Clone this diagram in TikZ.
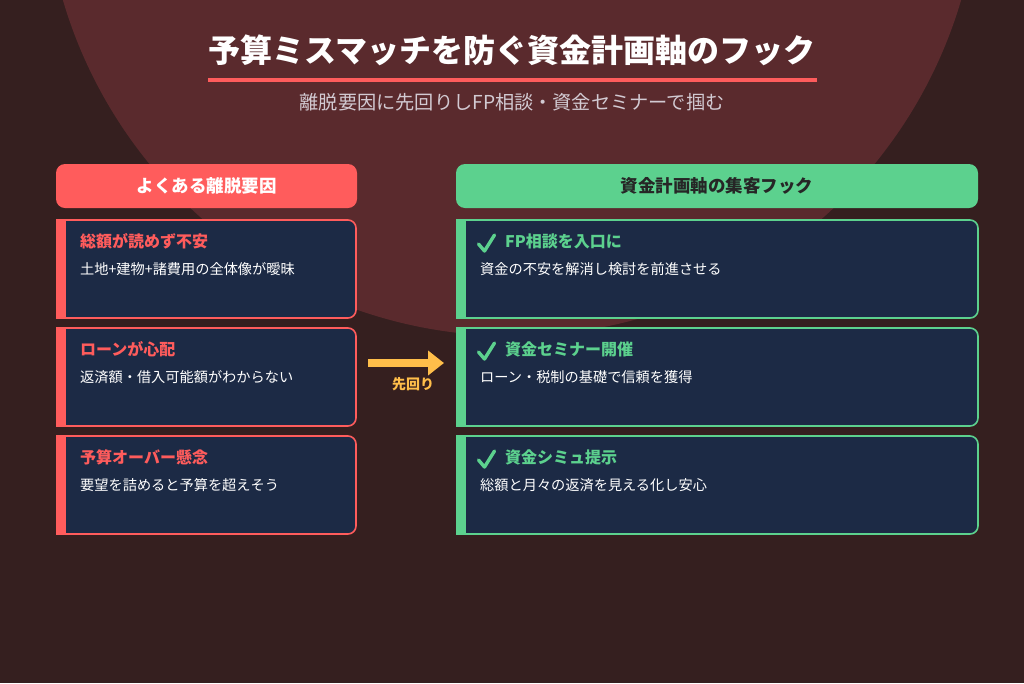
\documentclass[tikz,border=0pt]{standalone}
\usepackage{fontspec}
\newfontfamily\jp{Noto Sans CJK JP}
\usetikzlibrary{arrows.meta}
\definecolor{bgc}{HTML}{351F1F}
\definecolor{circc}{HTML}{5A2A2D}
\definecolor{cardc}{HTML}{1C2A45}
\definecolor{redc}{HTML}{FF5C5C}
\definecolor{greenc}{HTML}{5CD18E}
\definecolor{yelc}{HTML}{FFBE4A}
\definecolor{subc}{HTML}{D2CAD2}
\tikzset{
  hdr/.style={rounded corners=9pt, minimum height=44pt, inner sep=0pt, font=\jp\bfseries\fontsize{17.5}{20}\selectfont},
  card/.style={fill=cardc, line width=1.6pt, rounded corners=8pt},
  ttl/.style={anchor=west, inner sep=0pt, font=\jp\bfseries\fontsize{16}{19}\selectfont},
  body/.style={anchor=west, inner sep=0pt, text=white, font=\jp\fontsize{14.2}{17}\selectfont},
  chk/.style={draw=greenc, line width=3.4pt, line cap=round, line join=round}
}
\begin{document}
\begin{tikzpicture}[x=1pt,y=-1pt]
\useasboundingbox (0,0) rectangle (1024,683);
\fill[bgc] (0,0) rectangle (1024,683);
\begin{scope}
\clip (0,0) rectangle (1024,683);
\fill[circc] (512,-132) circle[radius=468];
\end{scope}
% title
\node[text=white, font=\jp\bfseries\fontsize{32}{37}\selectfont, inner sep=0pt] (title) at (512,50) {予算ミスマッチを防ぐ資金計画軸のフック};
\coordinate (ul1) at (208,80);
\coordinate (ul2) at (817,80);
\draw[redc, line width=4pt] (ul1) -- (ul2);
\node[text=subc, font=\jp\fontsize{19.2}{22}\selectfont, inner sep=0pt] (sub) at (512,102) {離脱要因に先回りしFP相談・資金セミナーで掴む};
% headers
\node[hdr, fill=redc, text=white, minimum width=301pt] (lh) at (206.5,186) {よくある離脱要因};
\node[hdr, fill=greenc, text=black!85, minimum width=522pt] (rh) at (717,186) {資金計画軸の集客フック};
% left cards
\foreach \y/\t/\b [count=\i] in {220/総額が読めず不安/土地+建物+諸費用の全体像が曖昧, 328/ローンが心配/返済額・借入可能額がわからない, 436/予算オーバー懸念/要望を詰めると予算を超えそう}{
  \path[card, draw=redc] (57,\y) [rounded corners=8pt] -- (356,\y) -- (356,\y+98) [sharp corners] -- (57,\y+98) -- cycle;
  \fill[redc] (56,\y-0.8) rectangle (66,\y+98.8);
  \node[ttl, text=redc] (lt\i) at (80,\y+21) {\t};
  \node[body] (lb\i) at (80,\y+49) {\b};
}
% right cards
\foreach \y/\t/\b [count=\i] in {220/FP相談を入口に/資金の不安を解消し検討を前進させる, 328/資金セミナー開催/ローン・税制の基礎で信頼を獲得, 436/資金シミュ提示/総額と月々の返済を見える化し安心}{
  \path[card, draw=greenc] (457,\y) [rounded corners=8pt] -- (978,\y) -- (978,\y+98) [sharp corners] -- (457,\y+98) -- cycle;
  \fill[greenc] (456,\y-0.8) rectangle (466,\y+98.8);
  \node[ttl, text=greenc] (rt\i) at (505,\y+21) {\t};
  \node[body] (rb\i) at (480,\y+49) {\b};
  \coordinate (c1\i) at (478.5,\y+24);
  \coordinate (c2\i) at (484.5,\y+31);
  \coordinate (c3\i) at (494.5,\y+15);
  \draw[chk] (c1\i) -- (c2\i) -- (c3\i);
}
% arrow
\coordinate (a1) at (368,363);
\coordinate (a2) at (444,363);
\draw[yelc, line width=8pt, -{Triangle[length=16pt,width=24pt]}] (a1) -- (a2);
\node[text=yelc, font=\jp\bfseries\fontsize{14}{16}\selectfont, inner sep=0pt] (lbl) at (413,384) {先回り};
\end{tikzpicture}
\end{document}
